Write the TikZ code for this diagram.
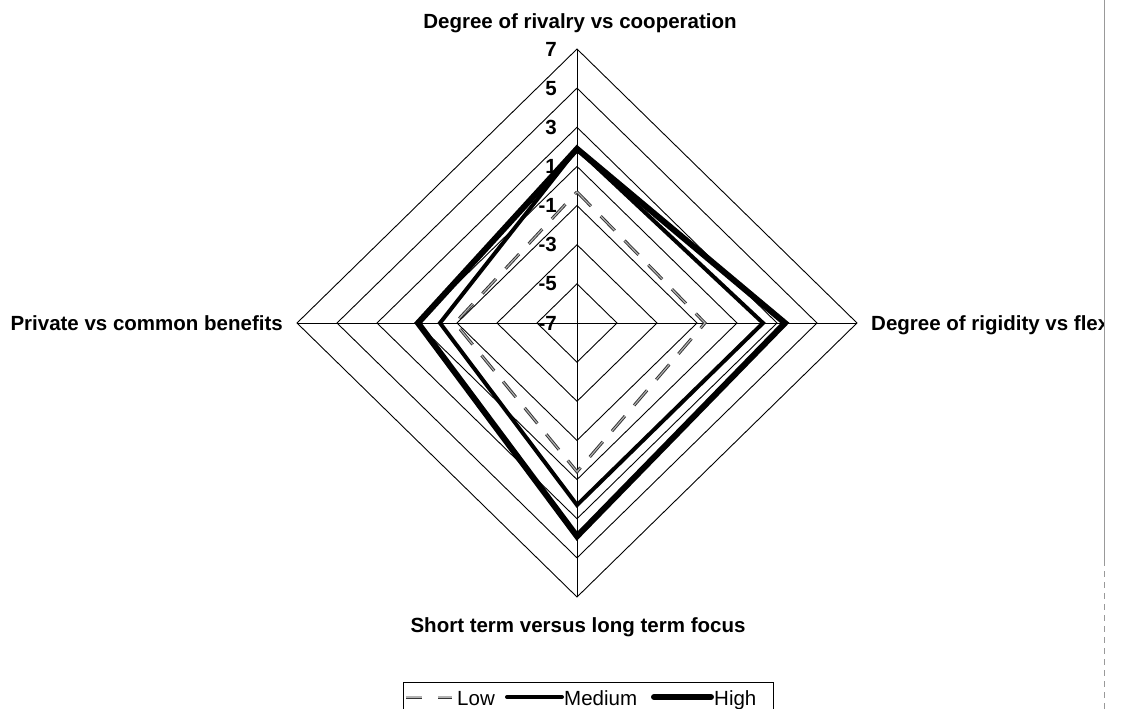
\documentclass[tikz,border=0pt]{standalone}
\usepackage{fontspec}
\setmainfont{Liberation Sans}
\begin{document}
\begin{tikzpicture}[x=1pt,y=-1pt,
  ring/.style={black, line width=0.9pt},
  axisline/.style={black, line width=0.9pt},
  axlab/.style={font=\fontsize{20.5}{23}\selectfont\bfseries, inner sep=0pt},
  ticklab/.style={font=\fontsize{20.5}{23}\selectfont\bfseries, inner sep=0pt},
  legtext/.style={font=\fontsize{20.5}{23}\selectfont, inner sep=0pt},
  lowout/.style={black!80, line width=3pt, dash pattern=on 20pt off 14pt},
  lowin/.style={black!30, line width=1.1pt, dash pattern=on 20pt off 14pt},
  medline/.style={black, line width=4pt, line join=miter},
  highline/.style={black, line width=6pt, line join=miter},
]
\useasboundingbox[fill=white] (0,0) rectangle (1122,709);

% concentric rings, one per tick step of 2
\foreach \k in {1,...,7}
  \draw[ring] (577,{323-\k*39.143}) -- ({577+\k*40},323)
              -- (577,{323+\k*39.143}) -- ({577-\k*40},323) -- cycle;

% spokes
\coordinate (axT) at (577,49);
\coordinate (axB) at (577,597);
\coordinate (axL) at (297,323);
\coordinate (axR) at (857,323);
\draw[axisline] (axT) -- (axB);
\draw[axisline] (axL) -- (axR);

% scale labels along the upper spoke
\foreach \k/\lab in {0/-7,1/-5,2/-3,3/-1,4/1,5/3,6/5,7/7}
  \node[ticklab, anchor=east] (tick\k) at (557,{323-\k*39.143}) {\lab};

% axis titles
\node[axlab, anchor=base] (ttop) at (580,29) {Degree of rivalry vs cooperation};
\node[axlab, anchor=east] (tleft) at (283,323) {Private vs common benefits};
\node[axlab, anchor=base] (tbot) at (578,632) {Short term versus long term focus};
\begin{scope}
  \clip (860,295) rectangle (1103,350);
  \node[axlab, anchor=base west] (tright) at (871,330) {Degree of rigidity vs flexibility};
\end{scope}

% data series: top / right / bottom / left values
\foreach \n/\t/\r/\b/\l in {lo/-0.3/-0.6/0.6/-0.9, md/1.9/2.3/2.3/-0.15, hi/1.9/3.4/3.9/0.95} {
  \coordinate (\n T) at (577,{323-(\t+7)*19.571});
  \coordinate (\n R) at ({577+(\r+7)*20},323);
  \coordinate (\n B) at (577,{323+(\b+7)*19.571});
  \coordinate (\n L) at ({577-(\l+7)*20},323);
}
\draw[lowout] (loT) -- (loR) -- (loB) -- (loL) -- cycle;
\draw[lowin] (loT) -- (loR) -- (loB) -- (loL) -- cycle;
\draw[medline] (mdT) -- (mdR) -- (mdB) -- (mdL) -- cycle;
\draw[highline] (hiT) -- (hiR) -- (hiB) -- (hiL) -- cycle;

% legend
\draw[black, line width=0.9pt] (403,730) -- (403,682) -- (773,682) -- (773,730);
\coordinate (lgLa) at (406,697);
\coordinate (lgLb) at (452,697);
\draw[black!80, line width=3pt, dash pattern=on 16pt off 16pt] (lgLa) -- (lgLb);
\draw[black!30, line width=1.1pt, dash pattern=on 16pt off 16pt] (lgLa) -- (lgLb);
\node[legtext, anchor=base west] (lgLow) at (457,705) {Low};
\coordinate (lgMa) at (507,697);
\coordinate (lgMb) at (562,697);
\draw[black, line width=4pt, line cap=round] (lgMa) -- (lgMb);
\node[legtext, anchor=base west] (lgMed) at (564,705) {Medium};
\coordinate (lgHa) at (654,697);
\coordinate (lgHb) at (711,697);
\draw[black, line width=6pt, line cap=round] (lgHa) -- (lgHb);
\node[legtext, anchor=base west] (lgHigh) at (714,705) {High};

% page edge
\draw[black!40, line width=0.8pt] (1104,0) -- (1104,560);
\draw[black!40, line width=0.8pt, dash pattern=on 6pt off 5pt] (1104,560) -- (1104,709);
\end{tikzpicture}
\end{document}
